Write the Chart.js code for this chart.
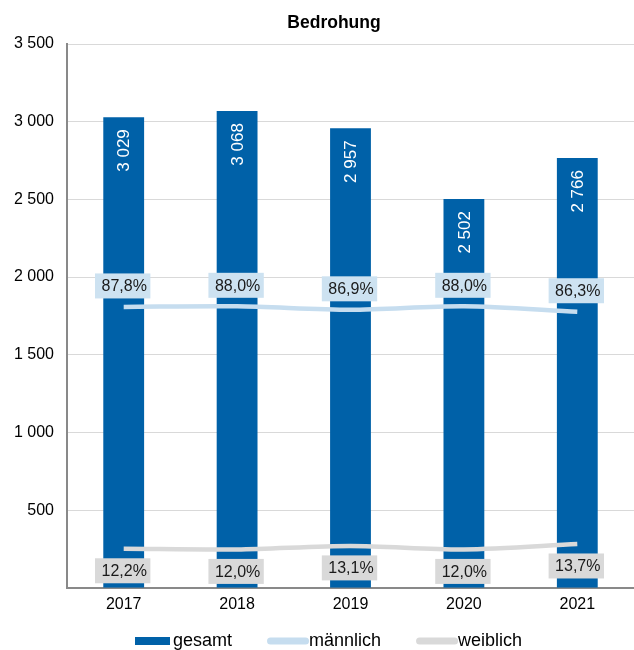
<!DOCTYPE html>
<html>
<head>
<meta charset="utf-8">
<script src="https://cdn.jsdelivr.net/npm/chart.js@4/dist/chart.umd.min.js"></script>
<style>
  html, body { margin: 0; padding: 0; background: #fff; }
  canvas { display: block; }
</style>
</head>
<body>
<canvas id="chart" width="634" height="650"></canvas>
<script>
// Bedrohung: total cases per year, with the male / female share as lines
const years = ['2017', '2018', '2019', '2020', '2021'];
const gesamt = [3029, 3068, 2957, 2502, 2766];
const maennlich = [87.8, 88.0, 86.9, 88.0, 86.3];
const weiblich = [12.2, 12.0, 13.1, 12.0, 13.7];
const countTicks = [500, 1000, 1500, 2000, 2500, 3000, 3500];
const titleText = 'Bedrohung';

const FONT = '"Liberation Sans", Arial, sans-serif';
const BLUE = '#0061a8';
const LIGHT_BLUE = '#c6ddef';
const LABEL_BLUE = '#cde2f1';
const GREY = '#d9d9d9';

const fmtNum = v => String(v).replace(/\B(?=(\d{3})+(?!\d))/g, ' ');
const fmtPct = v => v.toFixed(1).replace('.', ',') + '%';

// heading, centred over the plot rather than the whole canvas
const heading = {
  id: 'heading',
  afterDraw(chart) {
    const ctx = chart.ctx;
    ctx.save();
    ctx.font = 'bold 17.5px ' + FONT;
    ctx.fillStyle = '#000';
    ctx.textAlign = 'center';
    ctx.textBaseline = 'middle';
    ctx.fillText(titleText, 334, 23);
    ctx.restore();
  }
};

// value labels: rotated white numbers inside bars, boxed percentages at the lines
const valueLabels = {
  id: 'valueLabels',
  afterDatasetsDraw(chart) {
    const ctx = chart.ctx;
    chart.data.datasets.forEach((ds, i) => {
      const meta = chart.getDatasetMeta(i);
      meta.data.forEach((el, j) => {
        const v = ds.data[j];
        ctx.save();
        if (ds.type === 'bar') {
          ctx.translate(el.x + 1, el.y + 12);
          ctx.rotate(-Math.PI / 2);
          ctx.font = '17px ' + FONT;
          ctx.fillStyle = '#ffffff';
          ctx.textAlign = 'right';
          ctx.textBaseline = 'middle';
          ctx.fillText(fmtNum(v), 0, 0);
        } else {
          const txt = fmtPct(v);
          ctx.font = '16px ' + FONT;
          const w = ctx.measureText(txt).width + 10;
          const h = 25;
          const cx = el.x - 1;
          const cy = el.y + ds.labelOffset;
          ctx.fillStyle = ds.labelBg;
          ctx.fillRect(cx - w / 2, cy - h / 2, w, h);
          ctx.fillStyle = '#1a1a1a';
          ctx.textAlign = 'center';
          ctx.textBaseline = 'middle';
          ctx.fillText(txt, cx + 1.5, cy + 1);
        }
        ctx.restore();
      });
    });
  }
};

// legend row below the axis: bar swatch for the total, rounded strokes for the lines
const bottomLegend = {
  id: 'bottomLegend',
  afterDraw(chart) {
    const ctx = chart.ctx;
    const y = 641;
    let x = 135;
    ctx.save();
    ctx.font = '18px ' + FONT;
    ctx.textAlign = 'left';
    ctx.textBaseline = 'middle';
    chart.data.datasets.forEach(ds => {
      if (ds.type === 'bar') {
        ctx.fillStyle = ds.backgroundColor;
        ctx.fillRect(x, y - 4, 35, 8);
        x += 38;
      } else {
        ctx.strokeStyle = ds.borderColor;
        ctx.lineWidth = 7;
        ctx.lineCap = 'round';
        ctx.beginPath();
        ctx.moveTo(x + 3.5, y);
        ctx.lineTo(x + 38.5, y);
        ctx.stroke();
        x += 42;
      }
      ctx.fillStyle = '#000';
      ctx.fillText(ds.label, x, y);
      x += ctx.measureText(ds.label).width + 35;
    });
    ctx.restore();
  }
};

new Chart(document.getElementById('chart'), {
  data: {
    labels: years,
    datasets: [
      {
        type: 'bar', label: 'gesamt', data: gesamt, yAxisID: 'y',
        backgroundColor: BLUE, barPercentage: 0.36, categoryPercentage: 1, order: 2
      },
      {
        type: 'line', label: 'männlich', data: maennlich, yAxisID: 'y2',
        borderColor: LIGHT_BLUE, backgroundColor: LIGHT_BLUE, borderWidth: 4.5,
        pointRadius: 0, tension: 0.3, order: 1,
        labelBg: LABEL_BLUE, labelOffset: -21
      },
      {
        type: 'line', label: 'weiblich', data: weiblich, yAxisID: 'y2',
        borderColor: GREY, backgroundColor: GREY, borderWidth: 4.5,
        pointRadius: 0, tension: 0.3, order: 1,
        labelBg: GREY, labelOffset: 22
      }
    ]
  },
  options: {
    responsive: false,
    devicePixelRatio: 1,
    animation: false,
    layout: { padding: { left: 0, right: 0, top: 44, bottom: 29 } },
    plugins: {
      legend: { display: false },
      tooltip: { enabled: false },
      title: { display: false }
    },
    scales: {
      x: {
        grid: { display: false, drawTicks: false },
        border: { color: '#898989', width: 2 },
        ticks: { color: '#000', font: { family: FONT, size: 16 }, padding: 7 }
      },
      y: {
        min: 0, max: 3500,
        afterFit(scale) { scale.width = 67; },
        afterBuildTicks(scale) { scale.ticks = countTicks.map(v => ({ value: v })); },
        grid: { color: '#d9d9d9', lineWidth: 1, drawTicks: false },
        border: { color: '#898989', width: 2 },
        ticks: {
          color: '#000', font: { family: FONT, size: 16 }, padding: 13,
          callback: v => fmtNum(v)
        }
      },
      y2: { display: false, min: 0, max: 170 }
    }
  },
  plugins: [valueLabels, bottomLegend, heading]
});
</script>
</body>
</html>
